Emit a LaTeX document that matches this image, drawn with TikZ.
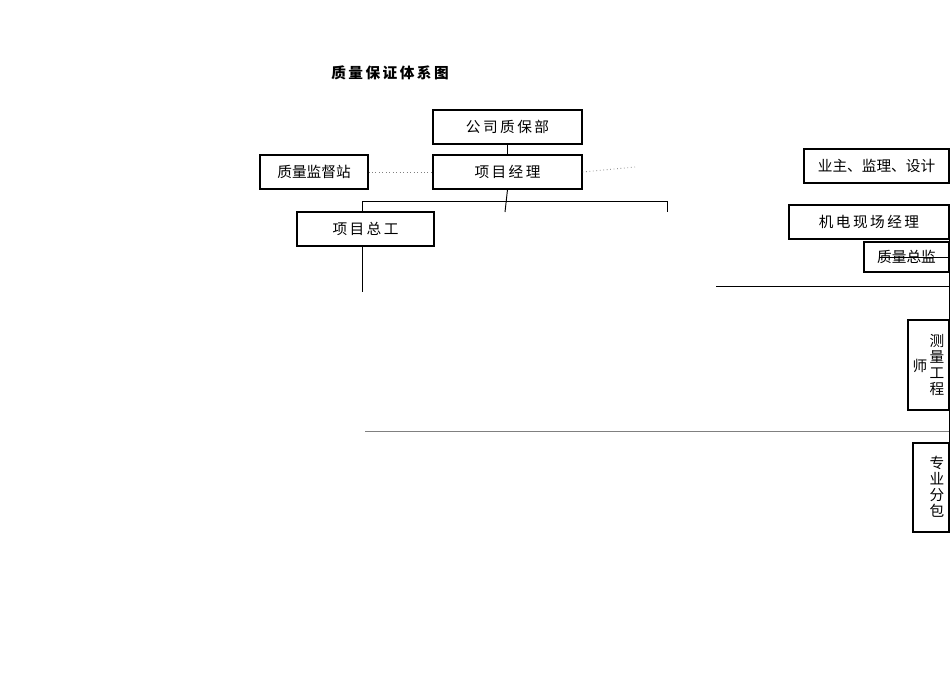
\documentclass[tikz,border=0pt]{standalone}
\usepackage{fontspec}
\setmainfont{Noto Sans CJK SC}
\begin{document}
\begin{tikzpicture}[x=0.75pt,y=-0.75pt,
  bx/.style={draw,thick,minimum height=25.5pt,inner sep=0pt,font=\fontsize{11}{12}\selectfont},
  ln/.style={draw,line width=0.7pt},
  dot/.style={draw,line width=0.6pt,dotted,gray}]
\useasboundingbox (0,0) rectangle (950,672);
\node[font=\bfseries\fontsize{11}{12}\selectfont] (title) at (390,73) {质\,量\,保\,证\,体\,系\,图};
\node[bx,minimum width=111.75pt] (gs) at (507.5,127) {公\,司\,质\,保\,部};
\node[bx,minimum width=111.75pt] (pm) at (507.5,172) {项\,目\,经\,理};
\node[bx,minimum width=81pt] (jd) at (314,172) {质量监督站};
\node[bx,minimum width=102.75pt] (zg) at (365.5,229) {项\,目\,总\,工};
\node[bx,minimum width=108.75pt] (yz) at (876.5,166) {业主、监理、设计};
\node[bx,minimum width=120pt] (jd2) at (869,222) {机\,电\,现\,场\,经\,理};
\node[bx,minimum width=63.75pt,minimum height=22.5pt] (zj) at (906.5,257) {质量总监};
\node[bx,minimum width=30.75pt,minimum height=67.5pt] (cl) at (928.5,365) {};
\node[font=\fontsize{11}{12}\selectfont,align=center,inner sep=0pt] (clt) at (937,365) {测\\量\\工\\程};
\node[font=\fontsize{11}{12}\selectfont,inner sep=0pt] (cls) at (920,366) {师};
\node[bx,minimum width=27pt,minimum height=66.75pt] (fb) at (931,487.5) {};
\node[font=\fontsize{11}{12}\selectfont,align=center,inner sep=0pt] (fbt) at (937,487) {专\\业\\分\\包};
\coordinate (d1) at (635,167);
\coordinate (b1) at (505,212);
\coordinate (h1) at (362,201);
\coordinate (h2) at (667,201);
\coordinate (h3) at (667,212);
\coordinate (z1) at (362,292);
\coordinate (r1) at (949,205);
\coordinate (r2) at (949,532);
\coordinate (s1) at (716,286);
\coordinate (s2) at (949,286);
\coordinate (t1) at (365,431);
\coordinate (t2) at (949,431);
\coordinate (k1) at (880,257);
\coordinate (k2) at (949,257);
\draw[ln] (gs) -- (pm);
\draw[dot] (jd) -- (pm.west);
\draw[dot] (pm.east) -- (d1);
\draw[ln] (pm.south) -- (b1);
\draw[ln] (zg.north -| h1) -- (h1) -- (h2) -- (h3);
\draw[ln] (zg.south -| z1) -- (z1);
\draw[ln] (r1) -- (r2);
\draw[ln] (s1) -- (s2);
\draw[ln,gray] (t1) -- (t2);
\draw[ln] (k1) -- (k2);
\end{tikzpicture}
\end{document}
